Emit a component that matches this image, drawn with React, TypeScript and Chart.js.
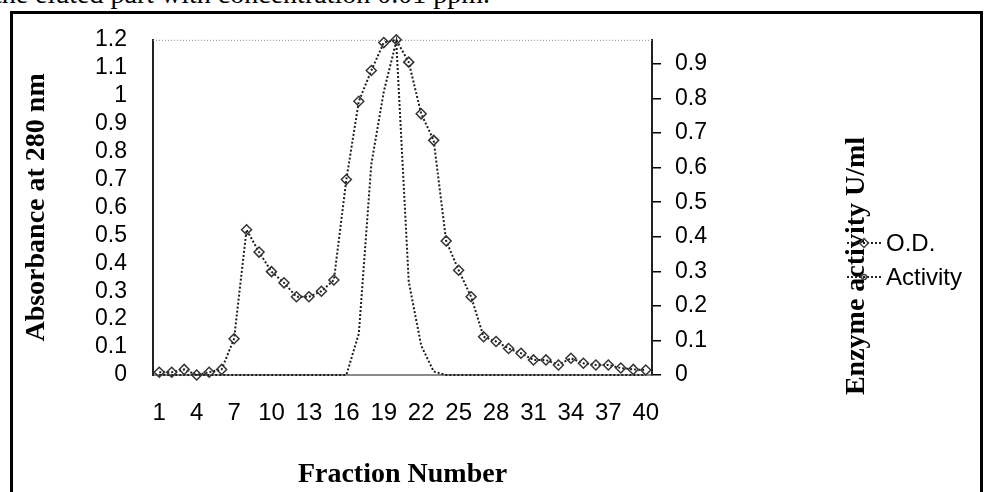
import React, { useEffect, useRef } from 'react';
import { Chart, registerables } from 'chart.js';

Chart.register(...registerables);

const fractionLabels = ['1','2','3','4','5','6','7','8','9','10','11','12','13','14','15','16','17','18','19','20','21','22','23','24','25','26','27','28','29','30','31','32','33','34','35','36','37','38','39','40'];

const odValues = [0.01, 0.01, 0.02, 0.0, 0.01, 0.02, 0.13, 0.52, 0.44, 0.37, 0.33, 0.28, 0.28, 0.3, 0.34, 0.7, 0.98, 1.09, 1.19, 1.2, 1.12, 0.935, 0.84, 0.48, 0.375, 0.28, 0.137, 0.12, 0.095, 0.078, 0.054, 0.054, 0.036, 0.06, 0.042, 0.036, 0.036, 0.025, 0.02, 0.018];

const activityValues = [0, 0, 0, 0, 0, 0, 0, 0, 0, 0, 0, 0, 0, 0, 0, 0, 0.12, 0.61, 0.82, 0.965, 0.27, 0.085, 0.01, 0, 0, 0, 0, 0, 0, 0, 0, 0, 0, 0, 0, 0, 0, 0, 0, 0];

const leftTickMax = 1.2;
const rightTickMax = 0.97;
const rightTickValues = [0, 0.1, 0.2, 0.3, 0.4, 0.5, 0.6, 0.7, 0.8, 0.9];

const seriesNames = ['O.D.', 'Activity'];
const xTitle = 'Fraction Number';
const leftTitle = 'Absorbance at 280 nm';
const rightTitle = 'Enzyme activity U/ml';
const captionText = 'of the eluted part with concentration 0.01 ppm.';

const SANS = '"Liberation Sans", Arial, sans-serif';
const SERIF = '"Liberation Serif", "Times New Roman", serif';

const overlayPlugin = {
  id: 'overlay',
  beforeDatasetsDraw(chart: any) {
    const { ctx, chartArea } = chart;
    ctx.save();
    ctx.strokeStyle = '#8a8a8a';
    ctx.lineWidth = 1;
    ctx.setLineDash([1, 2]);
    ctx.beginPath();
    ctx.moveTo(chartArea.left, chartArea.top + 0.5);
    ctx.lineTo(chartArea.right, chartArea.top + 0.5);
    ctx.stroke();
    ctx.restore();
  },
  afterDraw(chart: any) {
    const { ctx } = chart;
    ctx.save();
    ctx.translate(857, 266);
    ctx.rotate(-Math.PI / 2);
    ctx.fillStyle = '#000';
    ctx.font = 'bold 28px ' + SERIF;
    ctx.textAlign = 'center';
    ctx.textBaseline = 'middle';
    ctx.fillText(rightTitle, 0, 0);
    ctx.restore();

    const ys = [243, 277];
    seriesNames.forEach((name, i) => {
      const y = ys[i];
      ctx.save();
      ctx.strokeStyle = '#222';
      ctx.lineWidth = 2;
      ctx.setLineDash([2, 2]);
      ctx.beginPath();
      ctx.moveTo(847, y);
      ctx.lineTo(883, y);
      ctx.stroke();
      ctx.setLineDash([]);
      ctx.lineWidth = 1.5;
      ctx.strokeStyle = '#444';
      if (i === 0) {
        ctx.beginPath();
        ctx.moveTo(864, y - 4.5);
        ctx.lineTo(868.5, y);
        ctx.lineTo(864, y + 4.5);
        ctx.lineTo(859.5, y);
        ctx.closePath();
        ctx.stroke();
      } else {
        ctx.beginPath();
        ctx.arc(864, y, 2.5, 0, Math.PI * 2);
        ctx.stroke();
      }
      ctx.fillStyle = '#000';
      ctx.font = '24px ' + SANS;
      ctx.textAlign = 'left';
      ctx.textBaseline = 'middle';
      ctx.fillText(name, 886, y + 1);
      ctx.restore();
    });
  },
};

export default function App() {
  const canvasRef = useRef<HTMLCanvasElement | null>(null);

  useEffect(() => {
    const canvas = canvasRef.current;
    if (!canvas) return;
    const chart = new Chart(canvas, {
      type: 'line',
      data: {
        labels: fractionLabels,
        datasets: [
          {
            label: seriesNames[0],
            data: odValues,
            yAxisID: 'y',
            borderColor: '#1e1e1e',
            borderWidth: 2,
            borderDash: [2, 2],
            pointStyle: 'rectRot',
            pointRadius: 5,
            pointBorderWidth: 1.5,
            pointBorderColor: '#333',
            pointBackgroundColor: 'rgba(255,255,255,0)',
            tension: 0,
            clip: false as any,
          },
          {
            label: seriesNames[1],
            data: activityValues,
            yAxisID: 'y1',
            borderColor: '#1e1e1e',
            borderWidth: 2,
            borderDash: [2, 2],
            pointRadius: 0,
            tension: 0,
            clip: false as any,
          },
        ],
      },
      options: {
        responsive: false,
        animation: false,
        events: [],
        layout: { padding: { top: 39, left: 0, right: 0, bottom: 0 } },
        plugins: {
          legend: { display: false },
          tooltip: { enabled: false },
        },
        scales: {
          x: {
            type: 'category',
            offset: true,
            grid: { display: false, drawTicks: false },
            border: { display: true, color: '#8a8a8a', width: 2 },
            ticks: {
              autoSkip: false,
              maxRotation: 0,
              minRotation: 0,
              padding: 24,
              color: '#000',
              font: { family: SANS, size: 24 },
              callback: (_v: any, idx: number) => (idx % 3 === 0 ? fractionLabels[idx] : ''),
            },
            title: {
              display: true,
              text: xTitle,
              color: '#000',
              font: { family: SERIF, size: 28, weight: 'bold' },
              padding: { top: 0, bottom: 0 },
            },
            afterFit: (s: any) => {
              s.height = 117;
            },
          },
          y: {
            position: 'left',
            min: 0,
            max: leftTickMax,
            grid: { display: false, drawTicks: false },
            border: { display: true, color: '#222', width: 2, dash: [1, 1] },
            ticks: {
              autoSkip: false,
              stepSize: 0.1,
              padding: 26,
              color: '#000',
              font: { family: SANS, size: 23 },
              callback: (v: any) => String(Math.round(Number(v) * 10) / 10),
            },
            title: {
              display: true,
              text: leftTitle,
              color: '#000',
              font: { family: SERIF, size: 28, weight: 'bold' },
              padding: { top: 20, bottom: 0 },
            },
            afterFit: (s: any) => {
              s.width = 153;
            },
          },
          y1: {
            position: 'right',
            min: 0,
            max: rightTickMax,
            grid: {
              display: true,
              drawOnChartArea: false,
              drawTicks: true,
              tickLength: 9,
              color: '#000',
              lineWidth: 1.5,
            },
            border: { display: true, color: '#222', width: 2, dash: [1, 1] },
            ticks: {
              autoSkip: false,
              padding: 14,
              color: '#000',
              font: { family: SANS, size: 23 },
              callback: (v: any) => String(Math.round(Number(v) * 10) / 10),
            },
            afterBuildTicks: (s: any) => {
              s.ticks = rightTickValues.map((v) => ({ value: v }));
            },
            afterFit: (s: any) => {
              s.width = 333;
            },
          },
        },
      } as any,
      plugins: [overlayPlugin],
    });
    return () => chart.destroy();
  }, []);

  return (
    <div style={{ position: 'absolute', left: 0, top: 0, width: 985, height: 492, overflow: 'hidden', background: '#fff' }}>
      <div
        style={{
          position: 'absolute',
          right: 985 - 490,
          top: -20,
          whiteSpace: 'nowrap',
          fontFamily: SERIF,
          fontSize: 28,
          lineHeight: '28px',
          color: '#000',
        }}
      >
        {captionText}
      </div>
      <div
        style={{
          position: 'absolute',
          left: 10,
          top: 11,
          width: 973,
          height: 520,
          boxSizing: 'border-box',
          border: '3px solid #000',
        }}
      />
      <canvas ref={canvasRef} width={985} height={492} style={{ position: 'absolute', left: 0, top: 0, display: 'block' }} />
    </div>
  );
}
